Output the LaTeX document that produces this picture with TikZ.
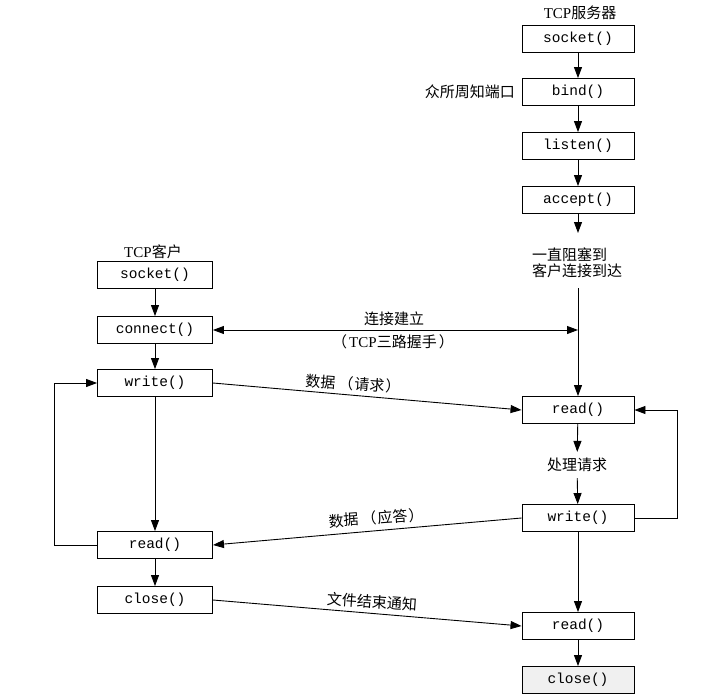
\documentclass[tikz,border=0pt]{standalone}
\usepackage{fontspec}
\setmainfont{Liberation Serif}
\setmonofont{Liberation Mono}
\newfontfamily\cjk{Noto Sans CJK SC}
\usetikzlibrary{arrows.meta}
\newcommand{\lp}{\hspace{3pt}（\hspace{1pt}}
\newcommand{\rp}{\hspace{1pt}）\hspace{3pt}}
\begin{document}
\begin{tikzpicture}[x=1pt,y=-1pt,
  fn/.style={draw, line width=0.9pt, minimum width=112pt, minimum height=27pt, inner sep=0pt,
             font=\ttfamily\fontsize{14.5}{16}\selectfont},
  cw/.style={minimum width=115pt},
  lbl/.style={font=\cjk\fontsize{15}{16}\selectfont, inner sep=1pt},
  arr/.style={-{Triangle[length=11pt,width=8pt]}, line width=0.9pt},
  darr/.style={{Triangle[length=11pt,width=8pt]}-{Triangle[length=11pt,width=8pt]}, line width=0.9pt}]
\useasboundingbox (0,0) rectangle (710,699);
% server
\node[lbl] (srvt) at (580,13) {{\rmfamily TCP}服务器};
\node[fn] (ssock) at (578,39) {socket()};
\node[fn] (sbind) at (578,92) {bind()};
\node[fn] (slist) at (578,146) {listen()};
\node[fn] (sacc) at (578,200) {accept()};
\node[lbl, anchor=east] (wk) at (516,92) {众所周知端口};
\coordinate (acctip) at (578,233);
\node[lbl, anchor=west, align=left] (block) at (531,263) {一直阻塞到\\客户连接到达};
\coordinate (vstart) at (578,288);
\node[fn] (sread1) at (578,410) {read()};
\node[lbl, inner sep=6pt] (proc) at (577,465) {处理请求};
\node[fn] (swrite) at (578,518) {write()};
\node[fn] (sread2) at (578,626) {read()};
\node[fn, fill=gray!12] (sclose) at (578,680) {close()};
% client
\node[lbl] (clit) at (153,252) {{\rmfamily TCP}客户};
\node[fn,cw] (csock) at (155,275) {socket()};
\node[fn,cw] (ccon) at (155,330) {connect()};
\node[fn,cw] (cwrite) at (155,383) {write()};
\node[fn,cw] (cread) at (155,545) {read()};
\node[fn,cw] (cclose) at (155,600) {close()};
% labels
\node[lbl] (conlbl) at (394,319) {连接建立};
\node[lbl] (tcp3) at (393,342) {（\hspace{2pt}{\rmfamily TCP}三路握手\hspace{2pt}）};
\node[lbl, rotate=-4] (req) at (353,384) {数据\lp 请求\rp};
\node[lbl, rotate=4] (resp) at (376,518) {数据\lp 应答\rp};
\node[lbl, rotate=-4] (eof) at (372,602) {文件结束通知};
% server flow
\draw[arr] (ssock) -- (sbind);
\draw[arr] (sbind) -- (slist);
\draw[arr] (slist) -- (sacc);
\draw[arr] (sacc) -- (acctip);
\draw[arr] (vstart) -- (sread1.north);
\draw[arr] (sread1) -- (proc);
\draw[arr] (proc) -- (swrite);
\draw[arr] (swrite) -- (sread2);
\draw[arr] (sread2) -- (sclose);
\draw[arr] (swrite.east) -- ++(43,0) |- (sread1.east);
% client flow
\draw[arr] (csock) -- (ccon);
\draw[arr] (ccon) -- (cwrite);
\draw[arr] (cwrite) -- (cread);
\draw[arr] (cread) -- (cclose);
\draw[arr] (cread.west) -- ++(-43,0) |- (cwrite.west);
% messages
\draw[darr] (ccon.east) -- (ccon.east -| vstart);
\draw[arr] (cwrite.east) -- (sread1.west);
\draw[arr] (swrite.west) -- (cread.east);
\draw[arr] (cclose.east) -- (sread2.west);
\end{tikzpicture}
\end{document}
